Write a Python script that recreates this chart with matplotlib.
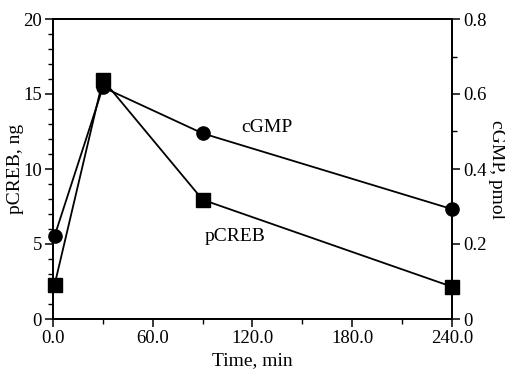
import matplotlib
matplotlib.use("Agg")
import matplotlib.pyplot as plt
from matplotlib.ticker import MultipleLocator, FixedLocator

plt.rcParams['font.family'] = ['Liberation Serif', 'DejaVu Serif']

time_min = [1, 30, 90, 240]
pcreb_ng = [2.3, 15.95, 7.95, 2.15]
cgmp_pmol = [0.222, 0.618, 0.495, 0.293]
xtick_labels = ["0.0", "60.0", "120.0", "180.0", "240.0"]
xtick_vals = [0, 60, 120, 180, 240]
ytick_vals = [0, 5, 10, 15, 20]
ytick_labels = ["0", "5", "10", "15", "20"]
y2tick_vals = [0, 0.2, 0.4, 0.6, 0.8]
y2tick_labels = ["0", "0.2", "0.4", "0.6", "0.8"]

fig = plt.figure(figsize=(5.05, 3.73), dpi=100)
ax = fig.add_axes([53/505, 1 - 319/373, (452-53)/505, (319-19)/373])
ax2 = ax.twinx()

fs_tick = 13.5
fs = 14
ax.plot(time_min, pcreb_ng, color='black', lw=1.3, marker='s', ms=10, clip_on=False, zorder=3)
ax2.plot(time_min, cgmp_pmol, color='black', lw=1.3, marker='o', ms=9.5, clip_on=False, zorder=3)

ax.set_xlim(0, 240)
ax.set_ylim(0, 20)
ax2.set_ylim(0, 0.8)

ax.xaxis.set_major_locator(FixedLocator(xtick_vals))
ax.set_xticklabels(xtick_labels)
ax.xaxis.set_minor_locator(MultipleLocator(30))
ax.yaxis.set_major_locator(FixedLocator(ytick_vals))
ax.set_yticklabels(ytick_labels)
ax.yaxis.set_minor_locator(MultipleLocator(1))
ax2.yaxis.set_major_locator(FixedLocator(y2tick_vals))
ax2.set_yticklabels(y2tick_labels)
ax2.yaxis.set_minor_locator(MultipleLocator(0.1))

for a in (ax, ax2):
    for s in a.spines.values():
        s.set_linewidth(1.3)
    a.tick_params(which='major', direction='out', length=6, width=1.1, labelsize=fs_tick, pad=2)
    a.tick_params(which='minor', direction='out', length=3.5, width=1.0)

ax.set_xlabel("Time, min", fontsize=fs, va='center')
ax.xaxis.set_label_coords(0.5, (319 - 361) / 300)
ax.set_ylabel("pCREB, ng", fontsize=fs, va='center')
ax.yaxis.set_label_coords((16 - 53) / 399, 0.5)
ax2.set_ylabel("cGMP, pmol", fontsize=fs, rotation=-90, va='center')
ax2.yaxis.set_label_coords((497 - 53) / 399, 0.5)

ax.text(113.5, 12.75, "cGMP", fontsize=fs, ha='left', va='center')
ax.text(91.5, 5.5, "pCREB", fontsize=fs, ha='left', va='center')

fig.savefig("out.png", dpi=100)
